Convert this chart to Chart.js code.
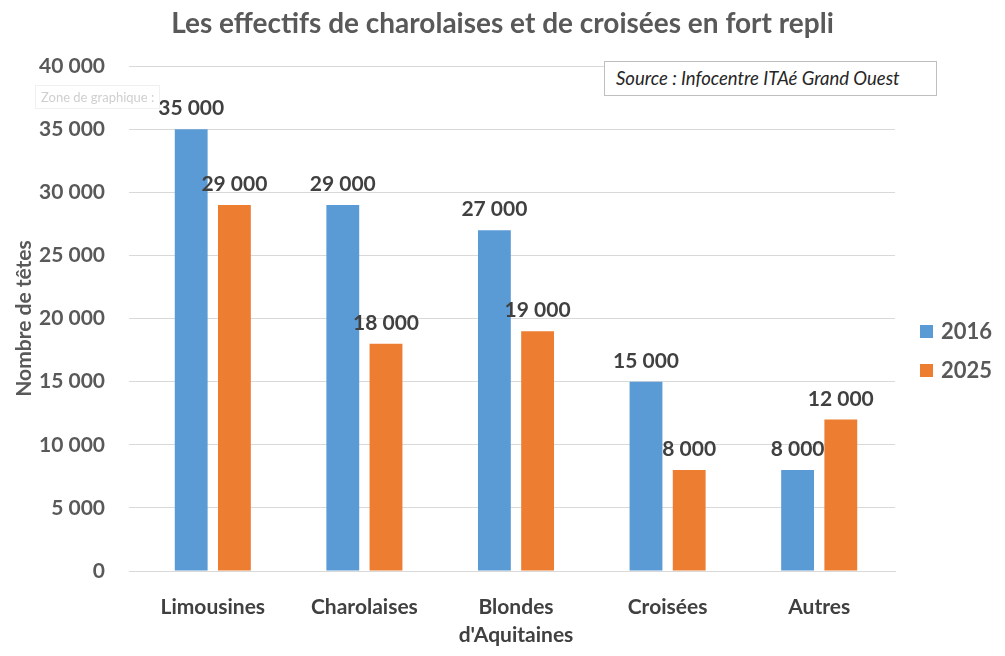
<!DOCTYPE html>
<html>
<head>
<meta charset="utf-8">
<script src="https://cdn.jsdelivr.net/npm/chart.js@4.4.1/dist/chart.umd.min.js"></script>
<style>
  body { margin: 0; background: #fff; }
  #wrap { position: relative; width: 1005px; height: 656px; }
  #title {
    position: absolute; left: 0; top: 5px; width: 1005px; text-align: center;
    font: bold 28px Lato, sans-serif; color: #595959;
  }
  #source {
    position: absolute; left: 604px; top: 61px; width: 333px; height: 35px;
    border: 1px solid #bfbfbf; background: #fff;
    font: italic 18.5px Lato, "Open Sans", sans-serif; color: #262626;
    line-height: 33px; padding-left: 11px; box-sizing: border-box;
  }
  #zone {
    position: absolute; left: 35px; top: 85px; padding: 3px 5px;
    border: 1px solid #f0f0f0; background: rgba(255,255,255,0.85);
    font: 13px Lato, sans-serif; color: #cfcfcf;
  }
  #legend { position: absolute; left: 920px; top: 317px; font: bold 22px Lato, sans-serif; color: #595959; }
  #legend div { height: 39px; line-height: 28px; }
  #legend span { display: inline-block; width: 13px; height: 13px; margin-right: 8px; vertical-align: 1px; }
</style>
</head>
<body>
<div id="wrap">
  <canvas id="chart" width="1005" height="656"></canvas>
  <div id="title">Les effectifs de charolaises et de croisées en fort repli</div>
  <div id="zone">Zone de graphique :</div>
  <div id="source">Source : Infocentre ITAé Grand Ouest</div>
  <div id="legend"></div>
</div>
<script>
// data
const categories = ['Limousines', 'Charolaises', ['Blondes', "d'Aquitaines"], 'Croisées', 'Autres'];
const seriesNames = ['2016', '2025'];
const values2016 = [35000, 29000, 27000, 15000, 8000];
const values2025 = [29000, 18000, 19000, 8000, 12000];
const yTicks = [0, 5000, 10000, 15000, 20000, 25000, 30000, 35000, 40000];
const colors = ['#5b9bd5', '#ed7d31'];

const fmt = v => String(v).replace(/\B(?=(\d{3})+(?!\d))/g, ' ');

// labels on top of bars
const barLabels = {
    id: 'barLabels',
    afterDatasetsDraw(chart) {
        const ctx = chart.ctx;
        ctx.save();
        ctx.font = 'bold 21px Lato, sans-serif';
        ctx.fillStyle = '#404040';
        ctx.textAlign = 'center';
        ctx.textBaseline = 'bottom';
        chart.data.datasets.forEach((ds, i) => {
            chart.getDatasetMeta(i).data.forEach((bar, j) => {
                ctx.fillText(fmt(ds.data[j]), bar.x, bar.y - 10);
            });
        });
        ctx.restore();
    }
};

const ctx = document.getElementById('chart').getContext('2d');
const chart = new Chart(ctx, {
    type: 'bar',
    data: {
        labels: categories,
        datasets: [
            { label: seriesNames[0], data: values2016, backgroundColor: colors[0] },
            { label: seriesNames[1], data: values2025, backgroundColor: colors[1] }
        ]
    },
    options: {
        responsive: false,
        animation: false,
        categoryPercentage: 0.57,
        barPercentage: 0.76,
        layout: { padding: { left: 10, right: 110, top: 66, bottom: 0 } },
        plugins: {
            title: { display: false },
            legend: { display: false },
            tooltip: { enabled: false }
        },
        scales: {
            x: {
                grid: { display: false },
                border: { color: '#d9d9d9' },
                afterFit: axis => { axis.height = 85; },
                ticks: {
                    color: '#404040',
                    font: { family: 'Lato', size: 21, weight: 'bold', lineHeight: 1.35 },
                    padding: 14,
                    maxRotation: 0
                }
            },
            y: {
                min: 0,
                max: 40000,
                afterBuildTicks: axis => { axis.ticks = yTicks.map(v => ({ value: v })); },
                afterFit: axis => { axis.width = 127; },
                grid: { color: '#d9d9d9' },
                border: { display: false },
                ticks: {
                    color: '#595959',
                    font: { family: 'Lato', size: 21, weight: 'bold' },
                    padding: 24,
                    callback: v => fmt(v)
                },
                title: {
                    display: true,
                    text: 'Nombre de têtes',
                    color: '#595959',
                    font: { family: 'Lato', size: 21, weight: 'bold' },
                    padding: 2
                }
            }
        }
    },
    plugins: [barLabels]
});

// legend on the right
const legend = document.getElementById('legend');
seriesNames.forEach((name, i) => {
    const row = document.createElement('div');
    row.innerHTML = '<span style="background:' + colors[i] + '"></span>' + name;
    legend.appendChild(row);
});
</script>
</body>
</html>
